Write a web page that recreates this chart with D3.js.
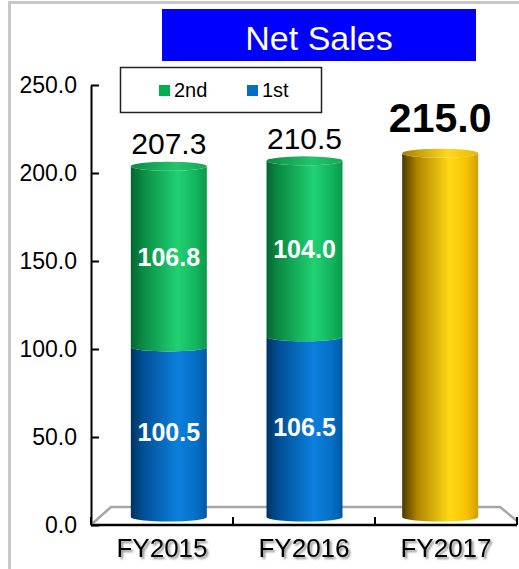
<!DOCTYPE html>
<html>
<head>
<meta charset="utf-8">
<script src="https://cdn.jsdelivr.net/npm/d3@7/dist/d3.min.js"></script>
<style>
  html, body { margin: 0; padding: 0; background: #fff; }
  svg { display: block; font-family: "Liberation Sans", Arial, sans-serif; }
</style>
</head>
<body>
<svg id="chart" width="519" height="569"></svg>
<script>
// Net sales by fiscal year (first half / second half)
const categories = ["FY2015", "FY2016", "FY2017"];
const firstHalf  = [100.5, 106.5, null];
const secondHalf = [106.8, 104.0, null];
const totals     = [207.3, 210.5, 215.0];
const forecastYear = "FY2017";
const yTicks = [0, 50, 100, 150, 200, 250];
const legendItems = ["2nd", "1st"];

const svg = d3.select("#chart");

// outer frame
svg.append("rect").attr("x", 9.5).attr("y", 2.5).attr("width", 600).attr("height", 600)
  .attr("fill", "none").attr("stroke", "#c8c8c8").attr("stroke-width", 3);

// gradients for the cylinder faces
const defs = svg.append("defs");
function grad(id, stops) {
  const g = defs.append("linearGradient").attr("id", id)
    .attr("x1", "0%").attr("x2", "100%").attr("y1", "0%").attr("y2", "0%");
  stops.forEach(([o, c]) => g.append("stop").attr("offset", o).attr("stop-color", c));
}
grad("gBlue",  [[0, "#00335f"], [0.15, "#004e94"], [0.62, "#0b80dc"], [0.85, "#0670c8"], [1, "#0059a6"]]);
grad("gGreen", [[0, "#05652f"], [0.15, "#0a8a43"], [0.62, "#1fd272"], [0.85, "#14b55d"], [1, "#0a9a4b"]]);
grad("gGold",  [[0, "#4f3800"], [0.2, "#b08400"], [0.62, "#ffd914"], [0.85, "#f6c200"], [1, "#d49e00"]]);
grad("gGreenTop", [[0, "#0c8a45"], [0.6, "#24c46c"], [1, "#13a856"]]);
grad("gBlueTop",  [[0, "#0656a0"], [0.6, "#1486dc"], [1, "#0a6cc0"]]);
grad("gGoldTop",  [[0, "#a88000"], [0.6, "#ffd820"], [1, "#e8b800"]]);

const shadow = defs.append("filter").attr("id", "txtShadow")
  .attr("x", "-10%").attr("y", "-10%").attr("width", "130%").attr("height", "140%");
shadow.append("feDropShadow").attr("dx", 2).attr("dy", 2).attr("stdDeviation", 1)
  .attr("flood-color", "#000").attr("flood-opacity", 0.45);

// title banner
svg.append("rect").attr("x", 162).attr("y", 9).attr("width", 314).attr("height", 52).attr("fill", "#0000ff");
svg.append("text").attr("x", 319).attr("y", 50).attr("text-anchor", "middle")
  .attr("fill", "#fff").attr("font-size", 34).text("Net Sales");

// scales: front plane for the axes, mid-depth plane for the cylinders
const y = d3.scaleLinear().domain([0, 250]).range([525, 85]);
const x = d3.scaleBand().domain(categories).range([91, 517]);
const yBar = d3.scaleLinear().domain([0, 250]).range([517, 94]);
const xBar = d3.scaleBand().domain(categories).range([101, 508]);
const barW = 76, rx = barW / 2, ry = 4.5;

// floor of the 3D plot area
svg.append("path")
  .attr("d", `M${x.range()[0] + 2},${y(0) - 2} L111,507 L500,507 L${x.range()[1]},${y(0) - 4}`)
  .attr("fill", "none").attr("stroke", "#a6a6a6").attr("stroke-width", 2.5);

// y axis
const yAxis = d3.axisLeft(y).tickValues(yTicks).tickFormat(d => d.toFixed(1))
  .tickSizeInner(-8).tickSizeOuter(0).tickPadding(14);
const gy = svg.append("g").attr("transform", `translate(${x.range()[0]},0)`).call(yAxis);
gy.select(".domain").attr("stroke", "#000").attr("stroke-width", 2);
gy.selectAll(".tick line").attr("stroke", "#000").attr("stroke-width", 2);
gy.selectAll(".tick text").attr("font-size", 23).attr("fill", "#000")
  .attr("font-family", "Liberation Sans, Arial, sans-serif");

// cylinders
function cylPath(l, r, yb, yt) {
  return `M${l},${yt} L${l},${yb} A${rx},${ry} 0 0 0 ${r},${yb} L${r},${yt} A${rx},${ry} 0 0 1 ${l},${yt} Z`;
}
const bars = svg.append("g");
categories.forEach((c, i) => {
  const cx = xBar(c) + xBar.bandwidth() / 2;
  const l = cx - rx, r = cx + rx;
  const segs = [];
  if (c === forecastYear) {
    segs.push({ v0: 0, v1: totals[i], fill: "url(#gGold)", top: "url(#gGoldTop)" });
  } else {
    segs.push({ v0: 0, v1: firstHalf[i], fill: "url(#gBlue)", top: "url(#gBlueTop)", label: firstHalf[i] });
    segs.push({ v0: firstHalf[i], v1: firstHalf[i] + secondHalf[i], fill: "url(#gGreen)", top: "url(#gGreenTop)", label: secondHalf[i] });
  }
  segs.forEach((s, k) => {
    bars.append("path").attr("d", cylPath(l, r, yBar(s.v0), yBar(s.v1))).attr("fill", s.fill);
    if (k === segs.length - 1) {
      bars.append("ellipse").attr("cx", cx).attr("cy", yBar(s.v1)).attr("rx", rx).attr("ry", ry)
        .attr("fill", s.top);
    }
  });
  segs.forEach(s => {
    if (s.label != null) {
      bars.append("text").attr("x", cx).attr("y", yBar((s.v0 + s.v1) / 2) + 9)
        .attr("text-anchor", "middle").attr("fill", "#fff").attr("font-weight", "bold")
        .attr("font-size", 25).text(s.label.toFixed(1));
    }
  });
  // total label above the cylinder
  const big = c === forecastYear;
  bars.append("text").attr("x", cx).attr("y", yBar(totals[i]) - (big ? 21 : 12))
    .attr("text-anchor", "middle").attr("fill", "#000")
    .attr("font-weight", big ? "bold" : "normal")
    .attr("font-size", big ? 41 : 30).text(totals[i].toFixed(1));
});

// x axis line with category boundary ticks
const gx = svg.append("g");
gx.append("line").attr("x1", x.range()[0]).attr("x2", x.range()[1]).attr("y1", y(0)).attr("y2", y(0))
  .attr("stroke", "#000").attr("stroke-width", 2.5);
const bounds = categories.map(c => x(c)).concat([x.range()[1]]);
gx.selectAll("line.b").data(bounds).enter().append("line").attr("class", "b")
  .attr("x1", d => d).attr("x2", d => d).attr("y1", y(0)).attr("y2", y(0) - 8)
  .attr("stroke", "#000").attr("stroke-width", 2);
gx.selectAll("text").data(categories).enter().append("text")
  .attr("x", d => x(d) + x.bandwidth() / 2).attr("y", 557)
  .attr("text-anchor", "middle").attr("font-size", 26).attr("fill", "#000")
  .attr("filter", "url(#txtShadow)").text(d => d);

// legend
const lg = svg.append("g");
lg.append("rect").attr("x", 120.5).attr("y", 67.5).attr("width", 201).attr("height", 45)
  .attr("fill", "#fff").attr("stroke", "#222").attr("stroke-width", 1.5);
const legendColors = { "2nd": "#00b050", "1st": "#0070c0" };
const legendX = d3.scalePoint().domain(legendItems).range([159, 247]);
legendItems.forEach(k => {
  lg.append("rect").attr("x", legendX(k)).attr("y", 85).attr("width", 11).attr("height", 11)
    .attr("fill", legendColors[k]);
  lg.append("text").attr("x", legendX(k) + 15).attr("y", 97).attr("font-size", 20)
    .attr("fill", "#000").text(k);
});
</script>
</body>
</html>
